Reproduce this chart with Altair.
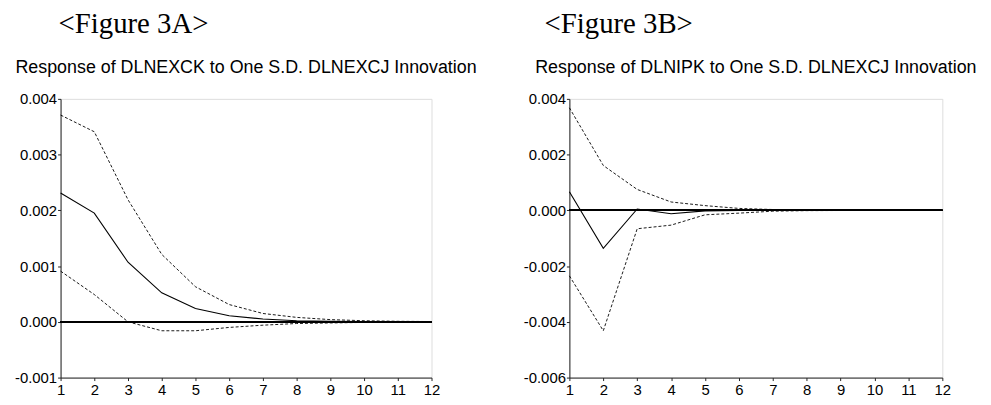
import altair as alt
import pandas as pd

periods = list(range(1, 13))

# Figure 3A: Response of DLNEXCK to one S.D. DLNEXCJ innovation
a_resp = [0.00231, 0.00195, 0.00107, 0.00052, 0.00024, 0.00011, 0.00005, 0.00002, 0.00001, 0.000005, 0.000002, 0.000001]
a_upper = [0.00371, 0.00341, 0.00219, 0.00121, 0.00063, 0.00031, 0.00015, 0.00008, 0.00004, 0.00002, 0.00001, 0.000005]
a_lower = [0.00091, 0.00049, 0.00000, -0.00016, -0.00016, -0.00010, -0.00006, -0.00003, -0.00002, -0.00001, -0.000005, -0.000002]

# Figure 3B: Response of DLNIPK to one S.D. DLNEXCJ innovation
b_resp = [0.00067, -0.00136, 0.00005, -0.00012, -0.00002, 0.0, 0.0, 0.0, 0.0, 0.0, 0.0, 0.0]
b_upper = [0.00368, 0.00161, 0.00075, 0.00030, 0.00017, 0.00007, 0.00003, 0.00001, 0.000005, 0.000002, 0.000001, 0.0]
b_lower = [-0.00235, -0.00432, -0.00066, -0.00053, -0.00016, -0.00010, -0.00003, -0.00001, -0.000005, -0.000002, -0.000001, 0.0]

a_ticks = [-0.001, 0.0, 0.001, 0.002, 0.003, 0.004]
b_ticks = [-0.006, -0.004, -0.002, 0.0, 0.002, 0.004]

a_label = "<Figure 3A>"
b_label = "<Figure 3B>"
a_title = "Response of DLNEXCK to One S.D. DLNEXCJ Innovation"
b_title = "Response of DLNIPK to One S.D. DLNEXCJ Innovation"

SANS = "Liberation Sans"
SERIF = "Liberation Serif"
MINUS = "\u2212"


def panel(resp, upper, lower, ticks, label, title, width, height, label_dx):
    df = pd.DataFrame({
        "period": periods * 3,
        "value": resp + upper + lower,
        "series": ["response"] * 12 + ["upper"] * 12 + ["lower"] * 12,
    })
    lo, hi = min(ticks), max(ticks)
    x = alt.X("period:Q",
              scale=alt.Scale(domain=[1, 12], nice=False, zero=False),
              axis=alt.Axis(values=periods, title=None, grid=False, format="d",
                            labelFont=SANS, labelFontSize=15, labelColor="black",
                            tickSize=3, tickColor="#222", domainColor="#222",
                            labelPadding=2, labelFlush=False))
    y = alt.Y("value:Q",
              scale=alt.Scale(domain=[lo, hi], nice=False, zero=False),
              axis=alt.Axis(values=ticks, title=None, grid=False,
                            labelExpr=f"replace(format(datum.value, '.3f'), '{MINUS}', '-')",
                            labelFont=SANS, labelFontSize=15, labelColor="black",
                            tickSize=3, tickColor="#222", domainColor="#222",
                            labelPadding=1, labelFlush=False))
    base = alt.Chart(df)
    zero = base.mark_rule(color="black", strokeWidth=1).encode(y=alt.datum(0))
    solid = base.transform_filter(alt.datum.series == "response").mark_line(
        color="black", strokeWidth=1.1).encode(x=x, y=y)
    bands = base.transform_filter(alt.datum.series != "response").mark_line(
        color="black", strokeWidth=0.9, strokeDash=[3, 2]).encode(
        x=x, y=y, detail="series:N")
    lab = alt.Chart(pd.DataFrame({"t": [label]})).mark_text(
        font=SERIF, fontSize=29, align="left", baseline="top", color="black"
    ).encode(text="t:N", x=alt.value(label_dx), y=alt.value(-89))
    ttl = alt.Chart(pd.DataFrame({"t": [title]})).mark_text(
        font=SANS, fontSize=18, align="center", baseline="alphabetic", color="black"
    ).encode(text="t:N", x=alt.value(width / 2), y=alt.value(-26))
    return alt.layer(zero, bands, solid, lab, ttl).properties(width=width, height=height)


left = panel(a_resp, a_upper, a_lower, a_ticks, a_label, a_title, 374, 281, -2)
right = panel(b_resp, b_upper, b_lower, b_ticks, b_label, b_title, 376, 281, -25)

chart = alt.hconcat(left, right, spacing=139, bounds="flush").properties(
    padding={"left": 5, "top": 0, "right": 5, "bottom": 2}
).configure_view(stroke="#666", strokeWidth=1).configure(background="white")

chart.save("out.html", embed_options={"renderer": "svg", "actions": False})
